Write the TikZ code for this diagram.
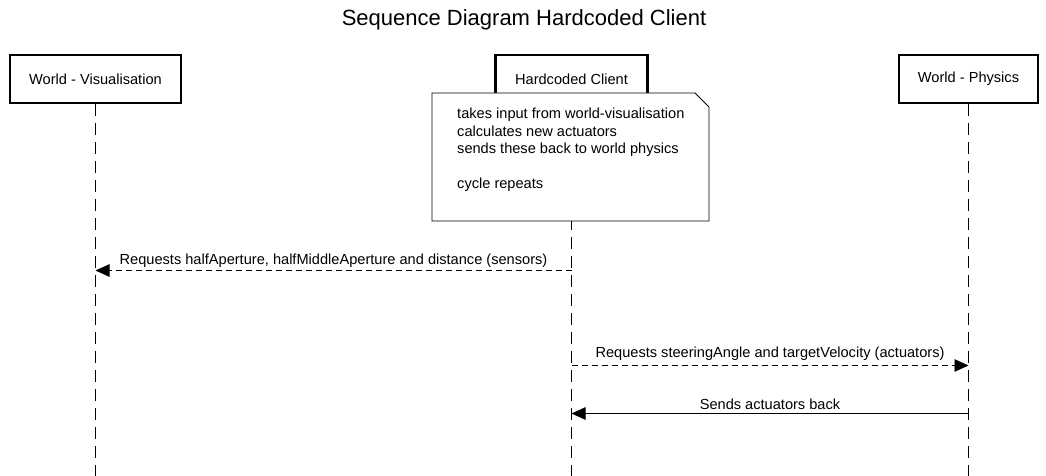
\documentclass[tikz,border=0pt]{standalone}
\usepackage{fontspec}
\setmainfont{Liberation Sans}
\usetikzlibrary{arrows.meta}
\tikzset{
  actor/.style={draw, line width=2.2pt, fill=white, minimum height=48pt, inner sep=0pt, font=\fontsize{14.6}{17}\selectfont},
  lifeline/.style={line width=1pt, dash pattern=on 12pt off 7pt},
  msg/.style={line width=0.9pt, -{Triangle[length=14pt,width=12.5pt]}},
  msgdash/.style={msg, dash pattern=on 6pt off 4pt},
  msglabel/.style={font=\fontsize{14.6}{17}\selectfont, inner sep=0pt},
}
\begin{document}
\begin{tikzpicture}[x=1pt,y=-1pt]
\useasboundingbox (0,0) rectangle (1046,476);
\node[font=\fontsize{22}{26}\selectfont] (title) at (524,20) {Sequence Diagram Hardcoded Client};
% participants
\node[actor, minimum width=171pt] (vis) at (95.5,79) {World - Visualisation};
\node[actor, minimum width=152pt] (client) at (571.5,79) {Hardcoded Client};
\node[actor, minimum width=139pt] (phys) at (968.5,79) {World - Physics};
\coordinate (bottom) at (0,476);
\draw[lifeline] (vis.south) -- (vis |- bottom);
\draw[lifeline] (client.south) -- (client |- bottom);
\draw[lifeline] (phys.south) -- (phys |- bottom);
% note
\draw[fill=white, line width=0.9pt] (432,93) -- (695,93) -- (709,107) -- (709,221) -- (432,221) -- cycle;
\node[anchor=north west, align=left, inner sep=0pt, font=\fontsize{14.6}{17.5}\selectfont] (note) at (457,108)
  {takes input from world-visualisation\\calculates new actuators\\sends these back to world physics\\[17.5pt]cycle repeats};
% messages
\coordinate (m1) at (0,270.5);
\coordinate (m2) at (0,365.5);
\coordinate (m3) at (0,413.5);
\draw[msgdash] (client |- m1) -- node[msglabel, above=3pt] {Requests halfAperture, halfMiddleAperture and distance (sensors)} (vis |- m1);
\draw[msgdash] (client |- m2) -- node[msglabel, above=5pt] {Requests steeringAngle and targetVelocity (actuators)} (phys |- m2);
\draw[msg] (phys |- m3) -- node[msglabel, above=3pt] {Sends actuators back} (client |- m3);
\end{tikzpicture}
\end{document}
